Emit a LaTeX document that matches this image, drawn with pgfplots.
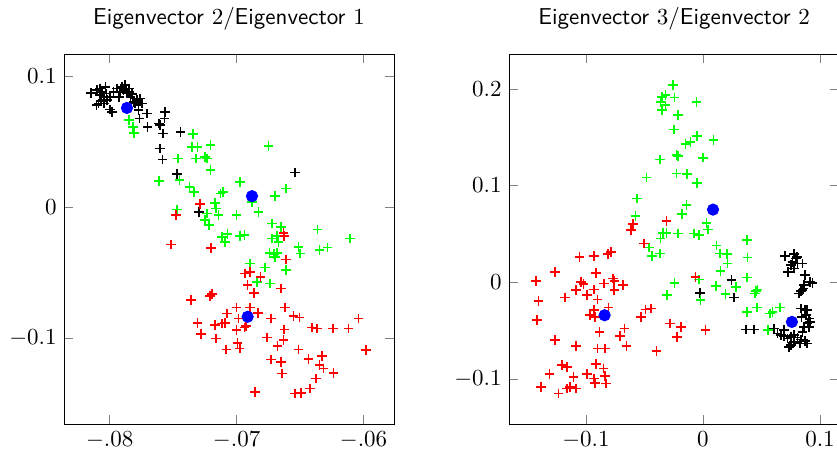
\documentclass[border=0pt]{standalone}
\usepackage{pgfplots}
\pgfplotsset{compat=1.18}
\begin{document}
\begin{tikzpicture}
\pgfplotsset{
  eig/.style={scale only axis, height=176.2pt, anchor=south west,
    title style={at={(0.5,1)}, anchor=base, yshift=7.8pt,
      font=\sffamily\fontsize{10.95}{13}\selectfont},
    tick label style={font=\fontsize{10.95}{13}\selectfont},
    only marks},
  cls/.style={mark=+, mark size=2.3pt, color=#1,
    mark options={draw=#1, line width=0.8pt}},
  ctr/.style={mark=*, mark size=2.7pt, color=blue, mark options={draw=blue, fill=blue}},
}

% --- left: eigenvector 2 against eigenvector 1 ---
\begin{axis}[eig, at={(30.48pt,-201.9pt)}, width=157.15pt,
  title={Eigenvector $2$/Eigenvector $1$},
  xmin=-0.0836, xmax=-0.0576, ymin=-0.1656, ymax=0.117,
  xtick={-0.08,-0.07,-0.06}, ytick={-0.1,0,0.1},
  scaled x ticks=false,
  xticklabel style={/pgf/number format/fixed, /pgf/number format/precision=2,
    /pgf/number format/skip 0.}]
\addplot[cls=black] coordinates {
(-0.08147,0.0873) (-0.08100,0.0893) (-0.08074,0.0855) (-0.08060,0.0881)
(-0.08047,0.0842) (-0.08034,0.0919) (-0.08026,0.0868) (-0.08021,0.0817)
(-0.08087,0.0792) (-0.08105,0.0779) (-0.08068,0.0812) (-0.08047,0.0792)
(-0.08000,0.0746) (-0.07982,0.0728) (-0.07969,0.0881) (-0.07942,0.0906)
(-0.07916,0.0881) (-0.07903,0.0919) (-0.07890,0.0893) (-0.07877,0.0931)
(-0.07864,0.0868) (-0.07850,0.0881) (-0.07837,0.0842) (-0.07824,0.0863)
(-0.07811,0.0804) (-0.07798,0.0792) (-0.07785,0.0817) (-0.07772,0.0779)
(-0.07759,0.0830) (-0.07745,0.0792) (-0.07772,0.0741) (-0.07764,0.0677)
(-0.07706,0.0715) (-0.07701,0.0613) (-0.07606,0.0626) (-0.07569,0.0677)
(-0.07562,0.0728) (-0.07580,0.0562) (-0.07606,0.0448) (-0.07585,0.0364)
(-0.07443,0.0575) (-0.07470,0.0252) (-0.07294,-0.0036) (-0.06538,0.0265)
(-0.08074,0.0906) (-0.07995,0.0842) (-0.07850,0.0906) (-0.07929,0.0842)
(-0.07614,0.0639)
};
\addplot[cls=green] coordinates {
(-0.07850,0.0664) (-0.07816,0.0613) (-0.07811,0.0568) (-0.07344,0.0557)
(-0.07352,0.0461) (-0.07307,0.0461) (-0.07207,0.0473) (-0.06748,0.0466)
(-0.07464,0.0372) (-0.07318,0.0372) (-0.07247,0.0384) (-0.07233,0.0372)
(-0.07207,0.0282) (-0.07614,0.0201) (-0.07449,0.0206) (-0.06971,0.0193)
(-0.07370,0.0155) (-0.07338,0.0117) (-0.06609,0.0143) (-0.06695,0.0084)
(-0.07128,0.0104) (-0.07107,0.0117) (-0.06879,0.0041) (-0.06827,-0.0036)
(-0.07168,0.0033) (-0.07160,-0.0010) (-0.07142,-0.0061) (-0.07470,-0.0018)
(-0.07233,-0.0048) (-0.07247,-0.0099) (-0.07220,-0.0137) (-0.07002,-0.0061)
(-0.06722,-0.0125) (-0.06651,-0.0150) (-0.06362,-0.0171) (-0.06105,-0.0239)
(-0.07115,-0.0227) (-0.07071,-0.0206) (-0.07089,-0.0265) (-0.06976,-0.0221)
(-0.06939,-0.0214) (-0.06722,-0.0239) (-0.06682,-0.0221) (-0.06669,-0.0265)
(-0.06512,-0.0303) (-0.06498,-0.0354) (-0.06346,-0.0328) (-0.06283,-0.0308)
(-0.06740,-0.0349) (-0.06708,-0.0359) (-0.06682,-0.0349) (-0.06695,-0.0379)
(-0.06892,-0.0430) (-0.06774,-0.0461) (-0.06609,-0.0481) (-0.06840,-0.0570)
(-0.06735,-0.0583)
};
\addplot[cls=red] coordinates {
(-0.07291,0.0023) (-0.07475,-0.0061) (-0.07517,-0.0285) (-0.07202,-0.0310)
(-0.06630,-0.0196) (-0.06624,-0.0221) (-0.06609,-0.0400) (-0.06932,-0.0506)
(-0.06892,-0.0494) (-0.06813,-0.0532) (-0.06913,-0.0596) (-0.06861,-0.0654)
(-0.06651,-0.0621) (-0.07194,-0.0664) (-0.07212,-0.0680) (-0.07360,-0.0710)
(-0.07002,-0.0766) (-0.06897,-0.0766) (-0.07076,-0.0812) (-0.06834,-0.0807)
(-0.06617,-0.0766) (-0.06551,-0.0832) (-0.06504,-0.0842) (-0.06039,-0.0850)
(-0.07307,-0.0883) (-0.07168,-0.0901) (-0.07115,-0.0888) (-0.07089,-0.0883)
(-0.06984,-0.0850) (-0.06939,-0.0919) (-0.06924,-0.0909) (-0.07002,-0.0939)
(-0.06730,-0.0850) (-0.06624,-0.0934) (-0.06407,-0.0919) (-0.06367,-0.0926)
(-0.06241,-0.0926) (-0.06118,-0.0926) (-0.07281,-0.0970) (-0.07160,-0.1003)
(-0.06992,-0.1036) (-0.06976,-0.1079) (-0.07081,-0.1087) (-0.06761,-0.0995)
(-0.06630,-0.1015) (-0.06677,-0.1061) (-0.06512,-0.1087) (-0.05979,-0.1092)
(-0.06328,-0.1138) (-0.06433,-0.1158) (-0.06730,-0.1163) (-0.06651,-0.1183)
(-0.06346,-0.1206) (-0.06315,-0.1232) (-0.06236,-0.1265) (-0.06643,-0.1270)
(-0.06372,-0.1308) (-0.06420,-0.1384) (-0.06853,-0.1410) (-0.06538,-0.1423)
(-0.06493,-0.1418)
};
\addplot[ctr] coordinates {(-0.07864,0.0758) (-0.06879,0.0084) (-0.06913,-0.0837)};
\end{axis}

% --- right: eigenvector 3 against eigenvector 2 ---
\begin{axis}[eig, at={(242.39pt,-201.9pt)}, width=157.3pt,
  title={Eigenvector $3$/Eigenvector $2$},
  xmin=-0.1657, xmax=0.1165, ymin=-0.1465, ymax=0.236,
  xtick={-0.1,0,0.1}, ytick={-0.1,0,0.1,0.2}]
\addplot[cls=black] coordinates {
(0.0700,0.0269) (0.0780,0.0289) (0.0794,0.0245) (0.0751,0.0176)
(0.0766,0.0210) (0.0809,0.0193) (0.0851,0.0193) (0.0780,0.0141)
(0.0729,0.0107) (0.0871,0.0072) (0.0917,0.0003) (0.0243,0.0021)
(-0.0026,-0.0110) (0.0266,-0.0158) (0.0837,-0.0090) (0.0860,-0.0065)
(0.0866,-0.0031) (0.0823,-0.0117) (0.0837,-0.0272) (0.0871,-0.0289)
(0.0880,-0.0341) (0.0843,-0.0358) (0.0889,-0.0289) (0.0909,-0.0376)
(0.0917,-0.0410) (0.0894,-0.0427) (0.0866,-0.0462) (0.0909,-0.0462)
(0.0366,-0.0489) (0.0437,-0.0489) (0.0609,-0.0479) (0.0637,-0.0531)
(0.0666,-0.0548) (0.0694,-0.0558) (0.0723,-0.0582) (0.0751,-0.0565)
(0.0780,-0.0548) (0.0809,-0.0572) (0.0837,-0.0593) (0.0871,-0.0606)
(0.0851,-0.0513) (0.0780,-0.0617) (0.0751,-0.0651) (0.0737,-0.0668)
(0.0831,-0.0634) (0.0889,-0.0634) (0.0694,-0.0496) (0.0937,-0.0007)
(0.0803,0.0262) (0.0851,-0.0083)
};
\addplot[cls=green] coordinates {
(-0.0254,0.2036) (-0.0349,0.1915) (-0.0320,0.1933) (-0.0363,0.1864)
(-0.0320,0.1829) (-0.0349,0.1778) (-0.0243,0.1909) (-0.0054,0.1864)
(-0.0214,0.1726) (-0.0249,0.1578) (-0.0149,0.1426) (-0.0106,0.1450)
(-0.0049,0.1509) (0.0089,0.1474) (-0.0226,0.1313) (-0.0214,0.1302)
(-0.0369,0.1268) (0.0003,0.1288) (-0.0226,0.1123) (-0.0134,0.1116)
(-0.0049,0.1027) (-0.0483,0.1082) (-0.0563,0.0865) (-0.0577,0.0682)
(-0.0140,0.0796) (-0.0177,0.0703) (0.0031,0.0613) (0.0043,0.0544)
(-0.0340,0.0510) (-0.0311,0.0510) (-0.0214,0.0503) (-0.0077,0.0503)
(-0.0034,0.0486) (-0.0363,0.0451) (0.0117,0.0379) (0.0146,0.0296)
(0.0203,0.0289) (0.0209,0.0193) (-0.0463,0.0358) (-0.0434,0.0269)
(-0.0369,0.0296) (0.0374,0.0434) (0.0380,0.0255) (0.0151,0.0117)
(0.0374,0.0048) (0.0109,-0.0041) (0.0280,-0.0048) (0.0194,-0.0124)
(0.0451,-0.0090) (0.0466,-0.0076) (0.0443,-0.0117) (-0.0020,-0.0186)
(-0.0034,0.0028) (0.0374,-0.0307) (0.0460,-0.0262) (0.0574,-0.0324)
(0.0594,-0.0307) (0.0660,-0.0262) (0.0557,-0.0496) (-0.0243,-0.0007)
(-0.0306,-0.0134)
};
\addplot[cls=red] coordinates {
(-0.0311,0.0634) (-0.0597,0.0599) (-0.0614,0.0537) (-0.0506,0.0400)
(-0.1054,0.0262) (-0.0929,0.0269) (-0.0814,0.0289) (-0.0786,0.0313)
(-0.1263,0.0107) (-0.1426,0.0010) (-0.0911,0.0096) (-0.1043,0.0003)
(-0.1020,-0.0021) (-0.1083,-0.0083) (-0.0991,-0.0134) (-0.0929,-0.0076)
(-0.0843,-0.0014) (-0.0769,0.0038) (-0.0757,0.0014) (-0.0683,-0.0031)
(-0.0757,-0.0083) (-0.1177,-0.0158) (-0.1406,-0.0193) (-0.0900,-0.0179)
(-0.0806,-0.0262) (-0.0929,-0.0289) (-0.0963,-0.0341) (-0.0920,-0.0358)
(-0.1420,-0.0393) (-0.0529,-0.0358) (-0.0491,-0.0282) (-0.0443,-0.0272)
(-0.0883,-0.0513) (-0.0706,-0.0558) (-0.0671,-0.0479) (-0.1263,-0.0599)
(-0.1083,-0.0661) (-0.0900,-0.0686) (-0.0834,-0.0686) (-0.0654,-0.0661)
(-0.0397,-0.0710) (-0.0283,-0.0427) (-0.0186,-0.0462) (-0.0220,-0.0565)
(-0.0063,0.0055) (0.0023,-0.0496) (-0.1206,-0.0858) (-0.1163,-0.0875)
(-0.0911,-0.0847) (-0.0849,-0.0892) (-0.1311,-0.0951) (-0.1106,-0.0978)
(-0.0991,-0.0951) (-0.0929,-0.0996) (-0.0834,-0.0971) (-0.1386,-0.1082)
(-0.1234,-0.1151) (-0.1163,-0.1099) (-0.1134,-0.1082) (-0.1083,-0.1099)
(-0.0920,-0.1040) (-0.0826,-0.1047)
};
\addplot[ctr] coordinates {(-0.0840,-0.0341) (0.0086,0.0751) (0.0760,-0.0410)};
\end{axis}

\pgfresetboundingbox
\path[use as bounding box] (0,0) rectangle (398.6pt,-214.3pt);
\end{tikzpicture}
\end{document}
